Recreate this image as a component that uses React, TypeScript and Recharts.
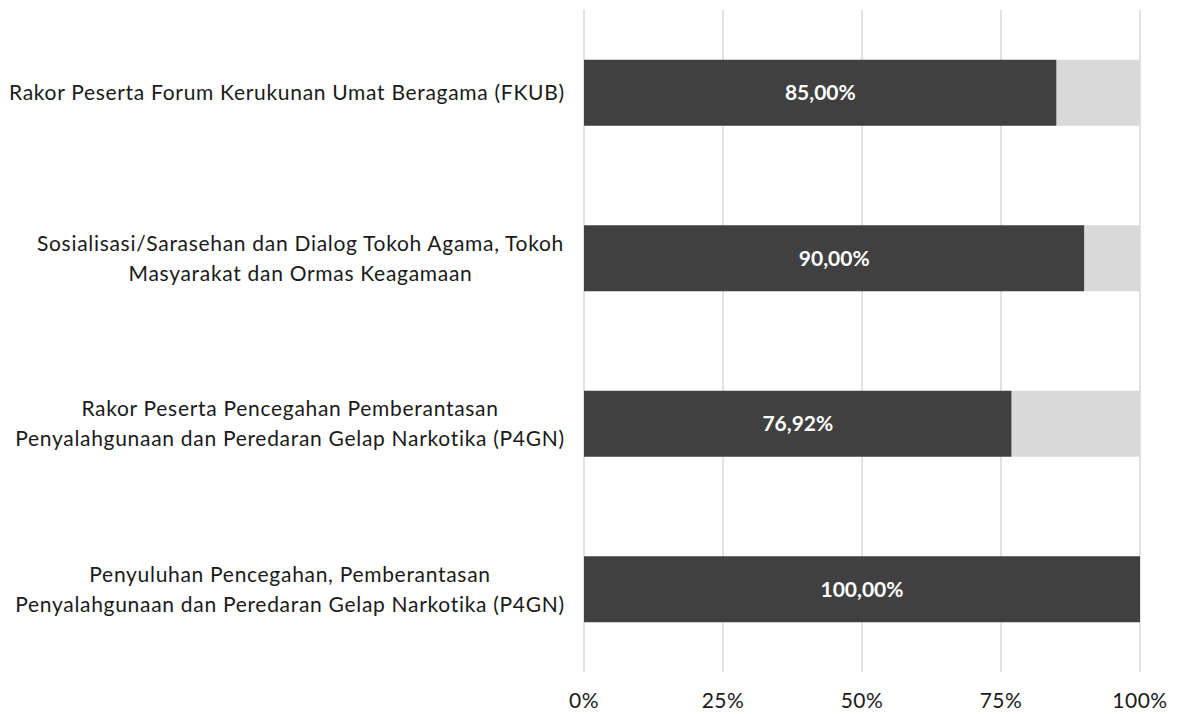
import React from "react";
import {
  BarChart,
  Bar,
  XAxis,
  YAxis,
  CartesianGrid,
  LabelList,
} from "recharts";

const categories = [
  "Rakor Peserta Forum Kerukunan Umat Beragama (FKUB)",
  "Sosialisasi/Sarasehan dan Dialog Tokoh Agama, Tokoh|Masyarakat dan Ormas Keagamaan",
  "Rakor Peserta Pencegahan Pemberantasan|Penyalahgunaan dan Peredaran Gelap Narkotika (P4GN)",
  "Penyuluhan Pencegahan, Pemberantasan|Penyalahgunaan dan Peredaran Gelap Narkotika (P4GN)",
];
const achieved = [85, 90, 76.92, 100];
const remaining = [15, 10, 23.08, 0];
const xTicks = [0, 25, 50, 75, 100];

const FONT = "Lato, 'Open Sans', sans-serif";
const LABEL_SIZE = 21;
const LABEL_SPACING = 0.7;

const data = categories.map((name, i) => ({
  name,
  achieved: achieved[i],
  remaining: remaining[i],
}));

let ctx: CanvasRenderingContext2D | null = null;
const measure = (text: string) => {
  if (!ctx) ctx = document.createElement("canvas").getContext("2d");
  if (!ctx) return text.length * 11;
  ctx.font = `${LABEL_SIZE}px Lato`;
  return ctx.measureText(text).width + text.length * LABEL_SPACING;
};

const CategoryTick = (props: any) => {
  const { y, payload } = props;
  const lines: string[] = String(payload.value).split("|");
  const widest = Math.max(...lines.map(measure));
  const cx = 565 - widest / 2;
  const lineHeight = 30;
  const startY = y - ((lines.length - 1) * lineHeight) / 2;
  return (
    <g>
      {lines.map((line, i) => (
        <text
          key={i}
          x={cx}
          y={startY + i * lineHeight}
          dy="0.35em"
          textAnchor="middle"
          fill="#1a1a1a"
          fontSize={LABEL_SIZE}
          fontFamily={FONT}
          letterSpacing={LABEL_SPACING}
        >
          {line}
        </text>
      ))}
    </g>
  );
};

const fmt = (v: any) => `${Number(v).toFixed(2).replace(".", ",")}%`;

export default function App() {
  return (
    <div style={{ position: "absolute", left: 0, top: 0, background: "#fff" }}>
      <BarChart
        width={1177}
        height={714}
        data={data}
        layout="vertical"
        stackOffset="expand"
        barCategoryGap="30%"
        margin={{ top: 10, right: 37, left: 0, bottom: 0 }}
      >
        <CartesianGrid horizontal={false} stroke="#d9d9d9" strokeWidth={1.5} />
        <XAxis
          type="number"
          domain={[0, 1]}
          ticks={xTicks.map((t) => t / 100)}
          tickFormatter={(v: number) => `${Math.round(v * 100)}%`}
          axisLine={false}
          tickLine={false}
          tickMargin={15}
          height={42}
          tick={{ fill: "#1a1a1a", fontSize: 21, fontFamily: FONT, letterSpacing: 0.5 }}
        />
        <YAxis
          type="category"
          dataKey="name"
          width={584}
          axisLine={false}
          tickLine={false}
          tick={<CategoryTick />}
        />
        <Bar dataKey="achieved" stackId="a" fill="#404040" isAnimationActive={false}>
          <LabelList
            dataKey="achieved"
            position="center"
            formatter={fmt}
            fill="#ffffff"
            fontSize={21}
            fontWeight="bold"
            fontFamily={FONT}
          />
        </Bar>
        <Bar dataKey="remaining" stackId="a" fill="#d9d9d9" isAnimationActive={false} />
      </BarChart>
    </div>
  );
}
